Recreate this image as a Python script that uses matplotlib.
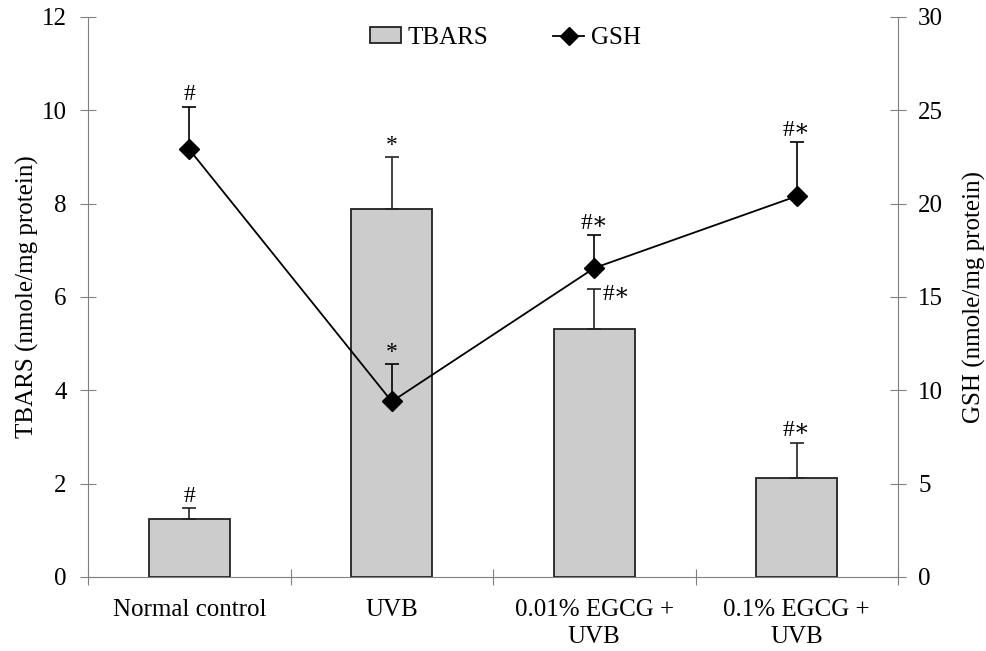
import matplotlib.pyplot as plt
from matplotlib.lines import Line2D
from matplotlib.patches import Patch

# data
groups = ["Normal control", "UVB", "0.01% EGCG +\nUVB", "0.1% EGCG +\nUVB"]
tbars = [1.25, 7.88, 5.32, 2.12]
tbars_err = [0.22, 1.12, 0.86, 0.76]
gsh = [22.9, 9.4, 16.55, 20.4]
gsh_err = [2.3, 2.0, 1.75, 2.9]
tbars_marks = ["#", "*", "#\u2217", "#\u2217"]
gsh_marks = ["#", "*", "#\u2217", "#\u2217"]

plt.rcParams["font.family"] = ["Liberation Serif", "DejaVu Serif"]
plt.rcParams["font.size"] = 18

GRAY = "#808080"

fig = plt.figure(figsize=(9.86, 6.51), dpi=100)
ax = fig.add_axes([0.0893, 0.1137, 0.8215, 0.8603])
ax2 = ax.twinx()

x = list(range(len(groups)))

# bars on left axis
ax.bar(x, tbars, width=0.4, color="#cccccc", edgecolor="#222222", linewidth=1.3, zorder=2)
ax.errorbar(x, tbars, yerr=[[0] * 4, tbars_err], fmt="none", ecolor="#222222",
            elinewidth=1.2, capsize=5, capthick=1.2, zorder=3)
for xi, v, e, m in zip(x, tbars, tbars_err, tbars_marks):
    if xi == 2:
        # moved to the right so it does not sit on the GSH marker
        ax.annotate(m, xy=(xi, v + e), xytext=(6, -4), textcoords="offset points",
                    ha="left", va="center", fontsize=17)
    else:
        ax.annotate(m, xy=(xi, v + e), xytext=(0, 1), textcoords="offset points",
                    ha="center", va="bottom", fontsize=17)

# line on right axis
ax2.errorbar(x, gsh, yerr=[[0] * 4, gsh_err], fmt="none", ecolor="black",
             elinewidth=1.2, capsize=5, capthick=1.2, zorder=3)
ax2.plot(x, gsh, color="black", linewidth=1.3, marker="D", markersize=10.5, zorder=4)
for xi, v, e, m in zip(x, gsh, gsh_err, gsh_marks):
    ax2.annotate(m, xy=(xi, v + e), xytext=(0, 1), textcoords="offset points",
                 ha="center", va="bottom", fontsize=17)

ax.set_xlim(-0.5, 3.5)
ax.set_ylim(0, 12)
ax2.set_ylim(0, 30)
ax.set_yticks(range(0, 13, 2))
ax2.set_yticks(range(0, 31, 5))

# category boundaries as major ticks, names at centres
ax.set_xticks([-0.5, 0.5, 1.5, 2.5, 3.5])
ax.set_xticklabels([])
ax.set_xticks(x, minor=True)
ax.set_xticklabels(groups, minor=True)
ax.tick_params(axis="x", which="minor", length=0, pad=16)
ax.tick_params(axis="x", which="major", direction="inout", length=11, color=GRAY)
ax.tick_params(axis="y", direction="inout", length=11, color=GRAY, pad=10)
ax2.tick_params(axis="y", direction="inout", length=11, color=GRAY, pad=9)
for lab in ax.get_xticklabels(minor=True):
    lab.set_linespacing(1.3)

for s in ["top", "right"]:
    ax.spines[s].set_visible(False)
for s in ["top", "left", "bottom"]:
    ax2.spines[s].set_visible(False)
for s in ["left", "bottom"]:
    ax.spines[s].set_color(GRAY)
ax2.spines["right"].set_color(GRAY)

ax.set_ylabel("TBARS (nmole/mg protein)", labelpad=2)
ax2.set_ylabel("GSH (nmole/mg protein)", labelpad=14)

handles = [
    Patch(facecolor="#cccccc", edgecolor="#222222", linewidth=1.3, label="TBARS"),
    Line2D([0], [0], color="black", linewidth=1.3, marker="D", markersize=9, label="GSH"),
]
ax2.legend(handles=handles, loc="center", bbox_to_anchor=(0.515, 0.9625), ncol=2,
           frameon=False, handlelength=1.25, handleheight=0.6, handletextpad=0.25,
           columnspacing=2.6, fontsize=18, borderpad=0)

fig.savefig("out.png", dpi=100)
